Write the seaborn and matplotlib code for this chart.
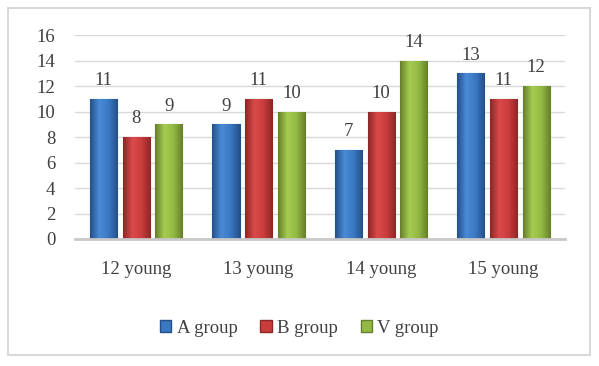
import numpy as np
import pandas as pd
import matplotlib
matplotlib.use('Agg')
import matplotlib.pyplot as plt
import seaborn as sns
from matplotlib.colors import LinearSegmentedColormap
from matplotlib.patches import Rectangle

# data
categories = ['12 young', '13 young', '14 young', '15 young']
groups = ['A group', 'B group', 'V group']
a_vals = [11, 9, 7, 13]
b_vals = [8, 11, 10, 11]
v_vals = [9, 10, 14, 12]

colors = {'A group': '#3A78C2', 'B group': '#C93D3D', 'V group': '#93B944'}
dark = {'A group': '#24508A', 'B group': '#8E2626', 'V group': '#667F2A'}
light = {'A group': '#4A8BD6', 'B group': '#DB4A4A', 'V group': '#A6CC52'}

df = pd.DataFrame({
    'cat': categories * 3,
    'group': ['A group'] * 4 + ['B group'] * 4 + ['V group'] * 4,
    'val': a_vals + b_vals + v_vals,
})

sns.set_style('white')
plt.rcParams['font.family'] = ['Liberation Serif', 'DejaVu Serif']
txt = '#404040'

fig = plt.figure(figsize=(5.99, 3.66), dpi=100)
ax = fig.add_axes([0.125, 0.347, 0.818, 0.557])

sns.barplot(data=df, x='cat', y='val', hue='group', palette=colors,
            width=0.8, gap=0.17, ax=ax, legend=False, saturation=1)

# gradient fill + labels per container
for cont, g in zip(ax.containers, groups):
    cmap = LinearSegmentedColormap.from_list(g, [dark[g], light[g], colors[g], dark[g]])
    grad = np.linspace(0, 1, 64).reshape(1, -1)
    for p in cont:
        p.set_edgecolor(dark[g])
        p.set_linewidth(0.8)
        x0, y0 = p.get_x(), p.get_y()
        w, h = p.get_width(), p.get_height()
        im = ax.imshow(grad, cmap=cmap, extent=(x0, x0 + w, y0, y0 + h),
                       aspect='auto', zorder=p.get_zorder() + 0.1, interpolation='bicubic')
        im.set_clip_path(p)
    ax.bar_label(cont, padding=7, fontsize=13.5, color=txt)

ax.set_xlim(-0.5, 3.5)
ax.set_ylim(0, 16)
ax.set_yticks(range(0, 17, 2))
ax.yaxis.grid(True, color='#d9d9d9', lw=1)
ax.set_axisbelow(True)
for s in ['top', 'right', 'left']:
    ax.spines[s].set_visible(False)
ax.spines['bottom'].set_color('#c8c8c8')
ax.spines['bottom'].set_linewidth(2)
ax.tick_params(axis='both', length=0, labelsize=13.5, colors=txt)
ax.tick_params(axis='x', pad=16)
ax.tick_params(axis='y', pad=14)
ax.set_xlabel('')
ax.set_ylabel('')

handles = [Rectangle((0, 0), 1, 1, facecolor=colors[g], edgecolor=dark[g]) for g in groups]
fig.legend(handles, groups, loc='center', bbox_to_anchor=(0.5, 0.103), ncol=3,
           frameon=False, fontsize=13.5, handlelength=0.6, handleheight=0.6,
           handletextpad=0.3, columnspacing=1.2, labelcolor=txt)

# outer border
fig.patches.append(Rectangle((8 / 599, 11 / 366), 582 / 599, 347 / 366,
                             transform=fig.transFigure, fill=False,
                             edgecolor='#d9d9d9', lw=1.5))

fig.savefig('out.png', dpi=100)
